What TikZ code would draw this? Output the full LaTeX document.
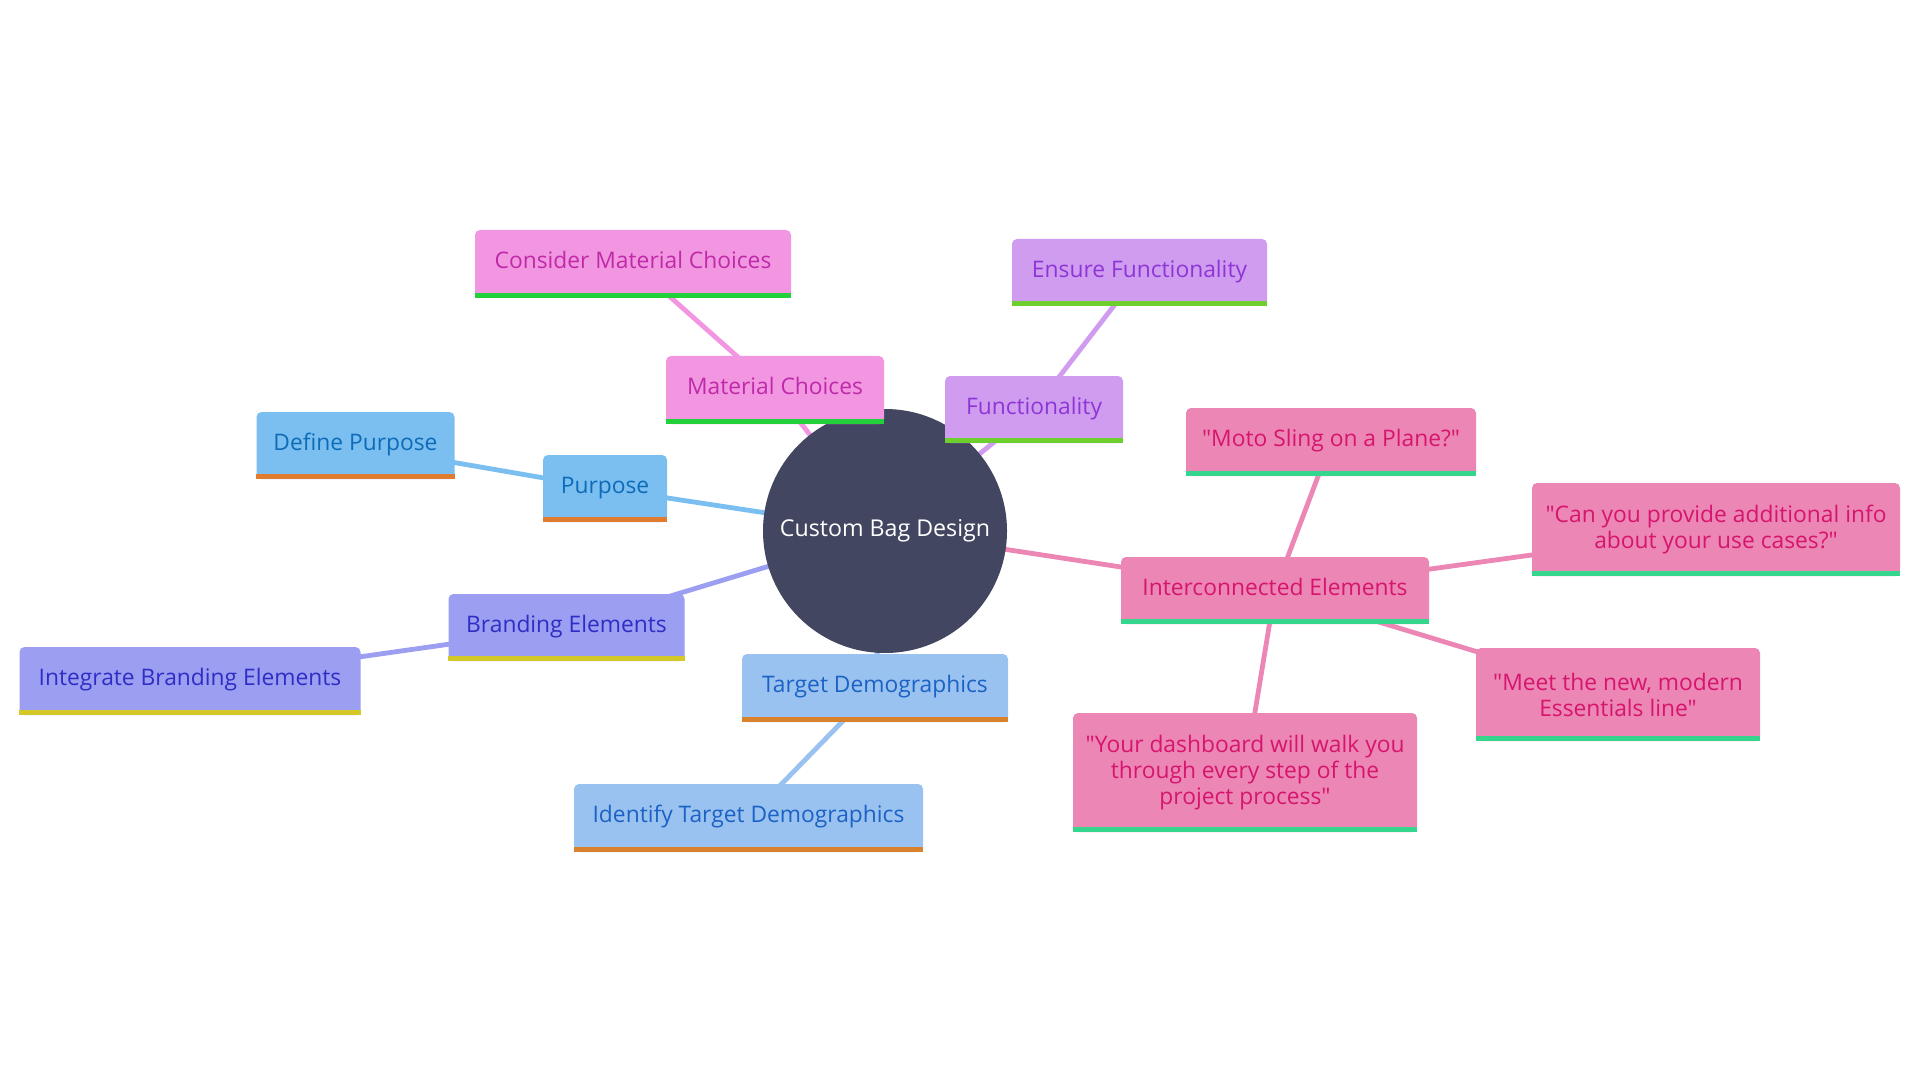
\documentclass[tikz,border=0pt]{standalone}
\usepackage{fontspec}
\setmainfont{Open Sans}[Ligatures=TeXOff]
\usetikzlibrary{backgrounds}
\definecolor{rootc}{HTML}{424660}
\definecolor{mcfill}{HTML}{F296E2}\definecolor{mctext}{HTML}{BF2AA8}\definecolor{mcbar}{HTML}{22D13A}
\definecolor{ffill}{HTML}{CF9CF0}\definecolor{ftext}{HTML}{8E35D6}\definecolor{fbar}{HTML}{6CCF2E}
\definecolor{pfill}{HTML}{7ABFF0}\definecolor{ptext}{HTML}{0E6BB8}\definecolor{pbar}{HTML}{E07B2F}
\definecolor{bfill}{HTML}{9C9EF2}\definecolor{btext}{HTML}{2E2EC4}\definecolor{bbar}{HTML}{D4C828}
\definecolor{tfill}{HTML}{9AC2F0}\definecolor{ttext}{HTML}{1C62C4}\definecolor{tbar}{HTML}{D9822B}
\definecolor{ifill}{HTML}{EC86B4}\definecolor{itext}{HTML}{D5156E}\definecolor{ibar}{HTML}{33D68C}
\tikzset{
  box/.style n args={4}{rectangle, rounded corners=2.5pt, fill=#1, text=#2,
    minimum width=#3*0.5pt, minimum height=#4*0.5pt, inner sep=0pt,
    align=center, font=\fontsize{11.4pt}{13pt}\selectfont},
  oneline/.style={text height=7.6pt, text depth=3pt},
  conn/.style={line width=2.4pt, draw=#1},
}
\newcommand{\barunder}[2]{\fill[#2] ([yshift=2.5pt]#1.south west) rectangle (#1.south east);}
\begin{document}
\begin{tikzpicture}[x=0.5pt,y=-0.5pt]
\useasboundingbox (0,0) rectangle (1920,1080);
% root
\node[circle, fill=rootc, text=white, minimum size=122pt, inner sep=0pt,
  font=\fontsize{11.6pt}{13pt}\selectfont] (root) at (885,531) {Custom Bag Design};
% material
\node[box={mcfill}{mctext}{218}{68}, oneline] (mc) at (775,390) {Material Choices};
\node[box={mcfill}{mctext}{316}{68}, oneline] (cmc) at (633,264) {Consider Material Choices};
% functionality
\node[box={ffill}{ftext}{178}{67}, oneline] (fn) at (1034,409.5) {Functionality};
\node[box={ffill}{ftext}{255}{67}, oneline] (efn) at (1139.5,272.5) {Ensure Functionality};
% purpose
\node[box={pfill}{ptext}{124}{67}, oneline] (pu) at (605,488.5) {Purpose};
\node[box={pfill}{ptext}{198}{67}, oneline] (dpu) at (355.5,445.5) {Define Purpose};
% branding
\node[box={bfill}{btext}{236}{67}, oneline] (be) at (566.5,627.5) {Branding Elements};
\node[box={bfill}{btext}{341}{68}, oneline] (ibe) at (190,681) {Integrate Branding Elements};
% target
\node[box={tfill}{ttext}{266}{68}, oneline] (td) at (875,688) {Target Demographics};
\node[box={tfill}{ttext}{349}{68}, oneline] (itd) at (748.5,818) {Identify Target Demographics};
% interconnected
\node[box={ifill}{itext}{308}{67}, oneline] (ie) at (1275,590.5) {Interconnected Elements};
\node[box={ifill}{itext}{290}{68}, oneline] (moto) at (1331,442) {"Moto Sling on a Plane?"};
\node[box={ifill}{itext}{368}{93}] (can) at (1716,529.5) {"Can you provide additional info\\about your use cases?"};
\node[box={ifill}{itext}{284}{93}] (meet) at (1618,694.5) {"Meet the new, modern\\Essentials line"};
\node[box={ifill}{itext}{344}{119}] (dash) at (1245,772.5) {"Your dashboard will walk you\\through every step of the\\project process"};
% bars
\barunder{mc}{mcbar}\barunder{cmc}{mcbar}
\barunder{fn}{fbar}\barunder{efn}{fbar}
\barunder{pu}{pbar}\barunder{dpu}{pbar}
\barunder{be}{bbar}\barunder{ibe}{bbar}
\barunder{td}{tbar}\barunder{itd}{tbar}
\barunder{ie}{ibar}\barunder{moto}{ibar}\barunder{can}{ibar}\barunder{meet}{ibar}\barunder{dash}{ibar}
% connectors
\begin{scope}[on background layer]
\fill[white] (0,0) rectangle (1920,1080);
\draw[conn=mcfill] (root.center) -- (mc.center);
\draw[conn=mcfill] (mc.center) -- (cmc.center);
\draw[conn=ffill] (root.center) -- (fn.center);
\draw[conn=ffill] (fn.center) -- (efn.center);
\draw[conn=pfill] (root.center) -- (pu.center);
\draw[conn=pfill] (pu.center) -- (dpu.center);
\draw[conn=bfill] (root.center) -- (be.center);
\draw[conn=bfill] (be.center) -- (ibe.center);
\draw[conn=tfill] (root.center) -- (td.center);
\draw[conn=tfill] (td.center) -- (itd.center);
\draw[conn=ifill] (root.center) -- (ie.center);
\draw[conn=ifill] (ie.center) -- (moto.center);
\draw[conn=ifill] (ie.center) -- (can.center);
\draw[conn=ifill] (ie.center) -- (meet.center);
\draw[conn=ifill] (ie.center) -- (dash.center);
\end{scope}
\end{tikzpicture}
\end{document}
